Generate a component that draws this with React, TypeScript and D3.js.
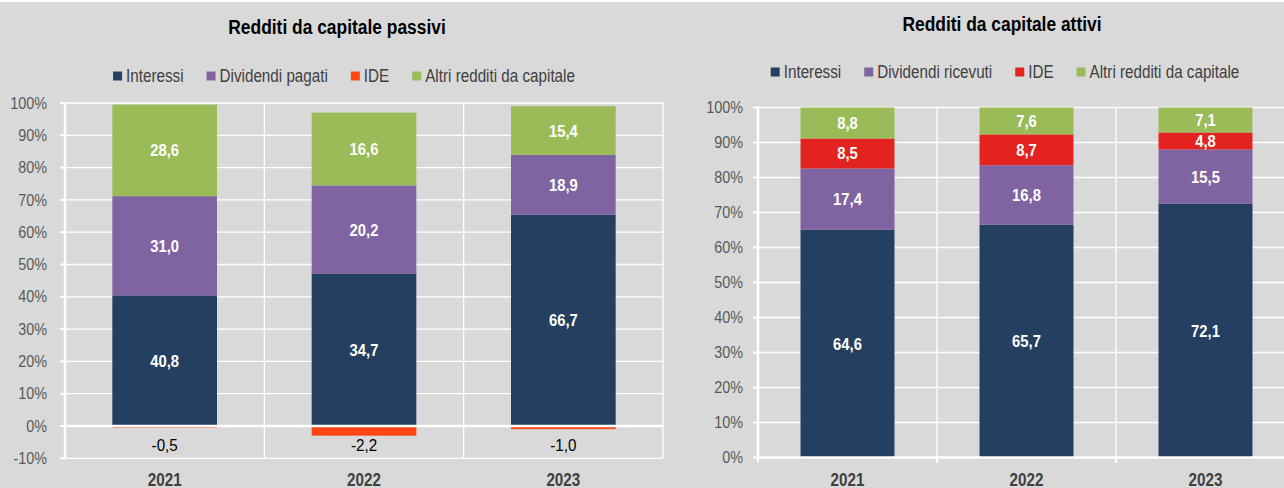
import React, { useEffect, useRef } from 'react';
import * as d3 from 'd3';

const years = ['2021', '2022', '2023'];

// Redditi da capitale passivi
const passiviInteressi = [40.8, 34.7, 66.7];
const passiviDividendi = [31.0, 20.2, 18.9];
const passiviIDE = [-0.5, -2.2, -1.0];
const passiviAltri = [28.6, 16.6, 15.4];
const passiviNames = ['Interessi', 'Dividendi pagati', 'IDE', 'Altri redditi da capitale'];
const passiviTicks = [-10, 0, 10, 20, 30, 40, 50, 60, 70, 80, 90, 100];

// Redditi da capitale attivi
const attiviInteressi = [64.6, 65.7, 72.1];
const attiviDividendi = [17.4, 16.8, 15.5];
const attiviIDE = [8.5, 8.7, 4.8];
const attiviAltri = [8.8, 7.6, 7.1];
const attiviNames = ['Interessi', 'Dividendi ricevuti', 'IDE', 'Altri redditi da capitale'];
const attiviTicks = [0, 10, 20, 30, 40, 50, 60, 70, 80, 90, 100];

const W = 1284;
const H = 488;
const FONT = "'Liberation Sans Narrow', 'Arial Narrow', 'Liberation Sans', Arial, sans-serif";
const BG = '#d9d9d9';

const fmt = (v: number) => v.toFixed(1).replace('.', ',');

type Sel = d3.Selection<any, unknown, null, undefined>;

// text squeezed horizontally to mimic the narrow font of the original
function txt(
  g: Sel,
  x: number,
  y: number,
  s: string,
  o: { size: number; sx: number; weight?: string; fill: string; anchor?: string; dy?: string }
) {
  return g
    .append('text')
    .attr('transform', `translate(${x},${y}) scale(${o.sx},1)`)
    .attr('dy', o.dy || null)
    .attr('text-anchor', o.anchor || 'start')
    .attr('font-size', o.size)
    .attr('font-weight', o.weight || 'normal')
    .attr('fill', o.fill)
    .text(s);
}

type ChartCfg = {
  title: string;
  titleX: number;
  titleY: number;
  names: string[];
  series: number[][];
  colors: string[];
  ticks: number[];
  legendY: number;
  legendCx: number;
  x0: number;
  x1: number;
  yTop: number;
  yBottom: number;
  yearY: number;
  tickLabelX: number;
  xTicks: boolean;
};

function drawChart(svg: Sel, cfg: ChartCfg) {
  const g = svg.append('g');
  const keys = cfg.names;

  // 100% stacked like Excel: share of the sum of absolute values
  const rows = years.map((yr, i) => {
    const tot = d3.sum(cfg.series, (s) => Math.abs(s[i]));
    const row: any = { year: yr };
    keys.forEach((k, j) => {
      row[k] = (cfg.series[j][i] / tot) * 100;
      row['raw_' + k] = cfg.series[j][i];
    });
    return row;
  });

  const stacked = d3.stack<any>().keys(keys).offset(d3.stackOffsetDiverging)(rows);

  const yMin = d3.min(cfg.ticks) as number;
  const yMax = d3.max(cfg.ticks) as number;
  const y = d3.scaleLinear().domain([yMin, yMax]).range([cfg.yBottom, cfg.yTop]);
  const x = d3.scaleBand().domain(years).range([cfg.x0, cfg.x1]).padding(0);
  const step = x.bandwidth();
  const barW = step * 0.525;

  // gridlines
  g.selectAll('line.hg')
    .data(cfg.ticks.filter((t) => t !== 0))
    .enter()
    .append('line')
    .attr('x1', cfg.x0)
    .attr('x2', cfg.x1)
    .attr('y1', (d) => y(d))
    .attr('y2', (d) => y(d))
    .attr('stroke', '#ffffff')
    .attr('stroke-width', 1.3);

  g.selectAll('line.vg')
    .data(years)
    .enter()
    .append('line')
    .attr('x1', (d) => (x(d) as number) + step)
    .attr('x2', (d) => (x(d) as number) + step)
    .attr('y1', y(yMax))
    .attr('y2', y(yMin))
    .attr('stroke', '#ffffff')
    .attr('stroke-width', 1.3);

  // bars
  stacked.forEach((layer, j) => {
    g.selectAll(null)
      .data(layer)
      .enter()
      .append('rect')
      .attr('x', (d: any) => (x(d.data.year) as number) + (step - barW) / 2)
      .attr('y', (d: any) => y(d[1]))
      .attr('width', barW)
      .attr('height', (d: any) => Math.max(0.8, y(d[0]) - y(d[1])))
      .attr('fill', cfg.colors[j]);
  });

  // axes
  g.append('line')
    .attr('x1', cfg.x0)
    .attr('x2', cfg.x1)
    .attr('y1', y(0))
    .attr('y2', y(0))
    .attr('stroke', '#ffffff')
    .attr('stroke-width', 2.5);
  g.append('line')
    .attr('x1', cfg.x0)
    .attr('x2', cfg.x0)
    .attr('y1', y(yMax) - 1)
    .attr('y2', y(yMin) + 1)
    .attr('stroke', '#ffffff')
    .attr('stroke-width', 2.5);

  g.selectAll('line.yt')
    .data(cfg.ticks)
    .enter()
    .append('line')
    .attr('x1', cfg.x0 - 5)
    .attr('x2', cfg.x0)
    .attr('y1', (d) => y(d))
    .attr('y2', (d) => y(d))
    .attr('stroke', '#ffffff')
    .attr('stroke-width', 2);

  if (cfg.xTicks) {
    g.selectAll('line.xt')
      .data([cfg.x0, ...years.map((d) => (x(d) as number) + step)])
      .enter()
      .append('line')
      .attr('x1', (d) => d)
      .attr('x2', (d) => d)
      .attr('y1', y(0))
      .attr('y2', y(0) + 5)
      .attr('stroke', '#ffffff')
      .attr('stroke-width', 2);
  }

  cfg.ticks.forEach((t) => {
    txt(g, cfg.tickLabelX, y(t), t + '%', {
      size: 16,
      sx: 0.9,
      fill: '#595959',
      anchor: 'end',
      dy: '0.35em',
    });
  });

  // category labels
  years.forEach((yr) => {
    txt(g, (x(yr) as number) + step / 2, cfg.yearY, yr, {
      size: 17.5,
      sx: 0.87,
      weight: 'bold',
      fill: '#404040',
      anchor: 'middle',
    });
  });

  // data labels
  stacked.forEach((layer, j) => {
    layer.forEach((d: any) => {
      const raw = d.data['raw_' + keys[j]];
      const cx = (x(d.data.year) as number) + step / 2;
      if (raw >= 0) {
        txt(g, cx, (y(d[0]) + y(d[1])) / 2, fmt(raw), {
          size: 17,
          sx: 0.87,
          weight: 'bold',
          fill: '#ffffff',
          anchor: 'middle',
          dy: '0.35em',
        });
      } else {
        txt(g, cx, y(0) + 19, fmt(raw), {
          size: 16.5,
          sx: 0.92,
          fill: '#000000',
          anchor: 'middle',
          dy: '0.35em',
        });
      }
    });
  });

  // title
  txt(g, cfg.titleX, cfg.titleY, cfg.title, {
    size: 20,
    sx: 0.87,
    weight: 'bold',
    fill: '#000000',
    anchor: 'middle',
  });

  // legend
  const lsx = 0.87;
  const gap = 23;
  const lg = g.append('g');
  let cursor = 0;
  cfg.names.forEach((n, j) => {
    const item = lg.append('g').attr('transform', `translate(${cursor},0)`);
    item.append('rect').attr('x', 0).attr('y', -4.5).attr('width', 9).attr('height', 9).attr('fill', cfg.colors[j]);
    const t = txt(item, 13, 0, n, { size: 17.5, sx: lsx, fill: '#404040', dy: '0.35em' });
    const tw = (t.node() as SVGTextElement).getComputedTextLength() * lsx;
    cursor += 13 + tw + gap;
  });
  const total = cursor - gap;
  lg.attr('transform', `translate(${cfg.legendCx - total / 2},${cfg.legendY})`);
}

export default function App() {
  const svgRef = useRef<SVGSVGElement>(null);

  useEffect(() => {
    const svg = d3.select(svgRef.current as SVGSVGElement) as Sel;
    svg.selectAll('*').remove();

    svg.append('rect').attr('width', W).attr('height', H).attr('fill', BG);
    svg.append('rect').attr('width', W).attr('height', 2).attr('fill', '#ffffff');

    drawChart(svg, {
      title: 'Redditi da capitale passivi',
      titleX: 337,
      titleY: 34,
      names: passiviNames,
      series: [passiviInteressi, passiviDividendi, passiviIDE, passiviAltri],
      colors: ['#253f60', '#8064a2', '#ff4513', '#9bbb59'],
      ticks: passiviTicks,
      legendY: 76,
      legendCx: 344,
      x0: 65,
      x1: 663,
      yTop: 103,
      yBottom: 458.3,
      yearY: 486,
      tickLabelX: 47,
      xTicks: false,
    });

    drawChart(svg, {
      title: 'Redditi da capitale attivi',
      titleX: 1002,
      titleY: 31,
      names: attiviNames,
      series: [attiviInteressi, attiviDividendi, attiviIDE, attiviAltri],
      colors: ['#253f60', '#8064a2', '#e3231f', '#9bbb59'],
      ticks: attiviTicks,
      legendY: 72,
      legendCx: 1005,
      x0: 758,
      x1: 1295,
      yTop: 107.5,
      yBottom: 457.5,
      yearY: 486,
      tickLabelX: 743,
      xTicks: true,
    });
  }, []);

  return (
    <svg
      ref={svgRef}
      width={W}
      height={H}
      style={{ position: 'absolute', left: 0, top: 0, fontFamily: FONT }}
    ></svg>
  );
}
